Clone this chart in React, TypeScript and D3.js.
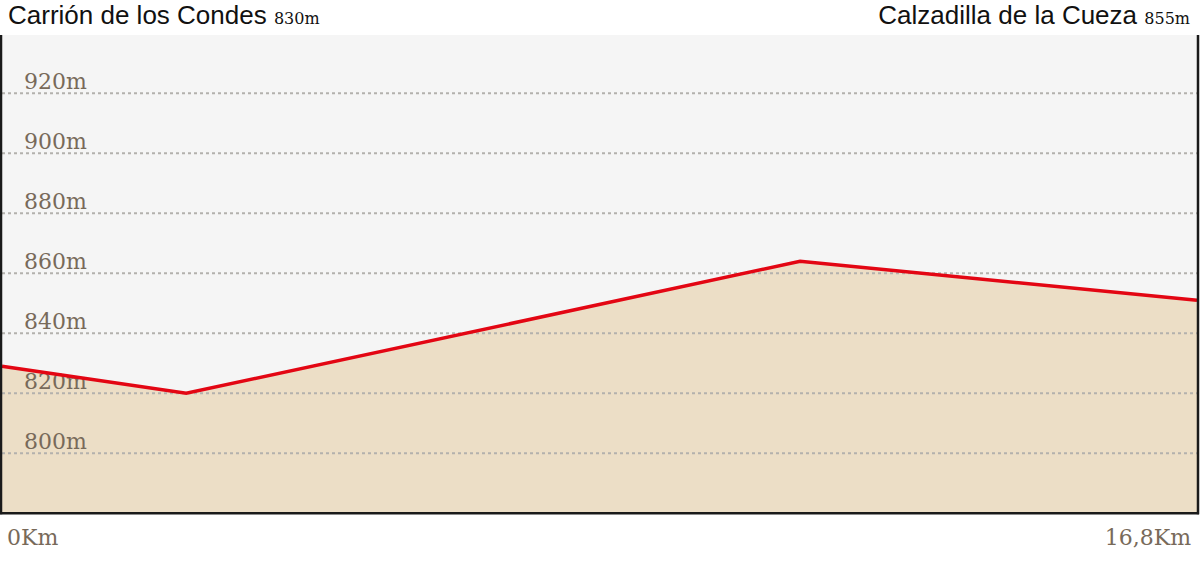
import React from "react";
import * as d3 from "d3";

const distancesKm = [0, 2.59, 11.22, 16.8];
const elevations = [829, 820, 864, 851];
const gridTicks = [800, 820, 840, 860, 880, 900, 920];
const startName = "Carrión de los Condes";
const startElev = "830m";
const endName = "Calzadilla de la Cueza";
const endElev = "855m";
const xTickLabels = ["0Km", "16,8Km"];

const W = 1200;
const H = 561;
const left = 2;
const right = 1197;
const top = 35;
const bottom = 513.3;

export default function App() {
  const x = d3.scaleLinear().domain([0, 16.8]).range([left, right]);
  const y = d3.scaleLinear().domain([780, 940]).range([bottom, bottom - 480]);
  const pts = distancesKm.map((d, i) => [d, elevations[i]] as [number, number]);
  const area = d3
    .area<[number, number]>()
    .x((d) => x(d[0]))
    .y0(bottom)
    .y1((d) => y(d[1]));
  const line = d3
    .line<[number, number]>()
    .x((d) => x(d[0]))
    .y((d) => y(d[1]));
  const brown = "#786a5a";
  const serif = "'DejaVu Serif', 'Liberation Serif', serif";
  const sans = "'Liberation Sans', Arial, sans-serif";
  return (
    <svg
      width={W}
      height={H}
      style={{ position: "absolute", left: 0, top: 0, background: "#fff" }}
    >
      <rect x={0} y={top} width={1199} height={bottom - top} fill="#f5f5f5" />
      <path d={area(pts) || ""} fill="#ecdec6" />
      {gridTicks.map((t) => (
        <g key={t}>
          <line
            x1={left}
            x2={right}
            y1={y(t)}
            y2={y(t)}
            stroke="#b3b1ad"
            strokeWidth={2}
            strokeDasharray="3,3"
          />
          <text
            x={24}
            y={y(t) - 4}
            fontFamily={serif}
            fontSize={22}
            fill={brown}
          >
            {t}m
          </text>
        </g>
      ))}
      <path
        d={line(pts) || ""}
        fill="none"
        stroke="#e30613"
        strokeWidth={3.5}
        strokeLinejoin="miter"
      />
      <line x1={1} x2={1} y1={top} y2={bottom + 1} stroke="#1a1a1a" strokeWidth={2.5} />
      <line x1={1198} x2={1198} y1={top} y2={bottom + 1} stroke="#1a1a1a" strokeWidth={2.5} />
      <line x1={0} x2={1199} y1={bottom} y2={bottom} stroke="#1a1a1a" strokeWidth={2.5} />
      <text x={8} y={24} fontFamily={sans} fontSize={26} fill="#111">
        {startName}{" "}
        <tspan fontFamily={serif} fontSize={16}>
          {startElev}
        </tspan>
      </text>
      <text x={1190} y={24} textAnchor="end" fontFamily={sans} fontSize={26} fill="#111">
        {endName}{" "}
        <tspan fontFamily={serif} fontSize={16}>
          {endElev}
        </tspan>
      </text>
      <text x={7} y={545} fontFamily={serif} fontSize={22} fill={brown}>
        {xTickLabels[0]}
      </text>
      <text x={1191} y={545} textAnchor="end" fontFamily={serif} fontSize={22} fill={brown}>
        {xTickLabels[1]}
      </text>
    </svg>
  );
}
